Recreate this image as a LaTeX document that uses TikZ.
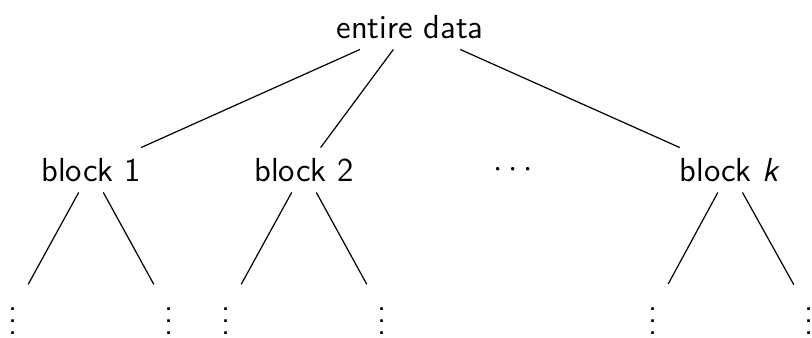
\documentclass[tikz,border=0pt]{standalone}
\usepackage{tikz}
\usetikzlibrary{positioning}
\begin{document}
\begin{tikzpicture}[x=0.33pt,y=-0.33pt,font=\sffamily\fontsize{11}{13.6}\selectfont] % units are pixels of the drawing
            \useasboundingbox (0,0) rectangle (812,337);
            \node (data) at (410,27) {entire data};
            \node (blk1) at (91,170) {block 1};
            \node (blk2) at (304,170) {block 2};
            \node (dots) at (513,170) {$\cdots$};
            \node (blkk) at (730,170) {block \textit{k}};
            \draw (data)--(blk1);
            \draw (data)--(blk2);
            \draw (data)--(blkk);
            % next level
            \node (v1a) at (13,312) {$\vdots$};
            \node (v1b) at (169,312) {$\vdots$};
            \draw (blk1)--(v1a);
            \draw (blk1)--(v1b);
            \node (v2a) at (226,312) {$\vdots$};
            \node (v2b) at (382,312) {$\vdots$};
            \draw (blk2)--(v2a);
            \draw (blk2)--(v2b);
            \node (vka) at (653,312) {$\vdots$};
            \node (vkb) at (809,312) {$\vdots$};
            \draw (blkk)--(vka);
            \draw (blkk)--(vkb);
        \end{tikzpicture}
\end{document}
